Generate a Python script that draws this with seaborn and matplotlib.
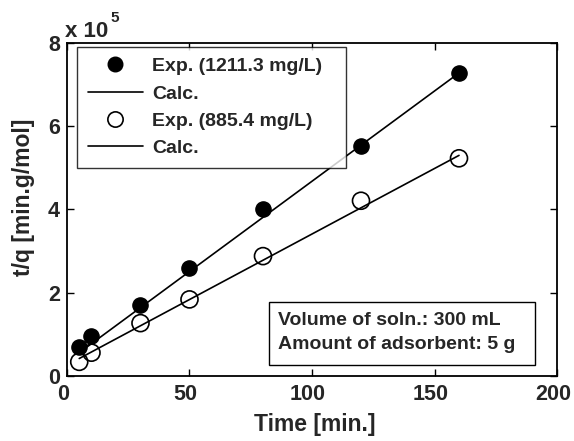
import matplotlib
matplotlib.use("Agg")
import matplotlib.pyplot as plt
import matplotlib.transforms as mtransforms
import seaborn as sns
import pandas as pd
from matplotlib.lines import Line2D
from matplotlib.patches import Rectangle

# Data (t/q in units of 1e5 min.g/mol)
time_exp = [5, 10, 30, 50, 80, 120, 160]
tq_1211 = [0.70, 0.96, 1.71, 2.59, 4.01, 5.53, 7.29]
tq_885 = [0.34, 0.56, 1.27, 1.84, 2.88, 4.21, 5.23]
time_calc = [5, 160]
calc_1211 = [0.56, 7.28]
calc_885 = [0.42, 5.30]

x_ticks = [0, 50, 100, 150, 200]
y_ticks = [0, 2, 4, 6, 8]

sns.set_style("white")
plt.rcParams['font.family'] = ['Liberation Sans', 'DejaVu Sans']
plt.rcParams['font.weight'] = 'bold'

fig = plt.figure(figsize=(5.74, 4.41), dpi=100)
ax = fig.add_axes([0.1167, 0.1474, 0.8537, 0.7551])

df_exp = pd.DataFrame({"t": time_exp, "a": tq_1211, "b": tq_885})
df_calc = pd.DataFrame({"t": time_calc, "a": calc_1211, "b": calc_885})

sns.lineplot(data=df_calc, x="t", y="a", color="black", linewidth=1.2, ax=ax, zorder=2)
sns.lineplot(data=df_calc, x="t", y="b", color="black", linewidth=1.2, ax=ax, zorder=2)
sns.scatterplot(data=df_exp, x="t", y="a", color="black", s=120, edgecolor="black",
                linewidth=1.0, ax=ax, zorder=3)
sns.scatterplot(data=df_exp, x="t", y="b", facecolor="none", s=150, edgecolor="black",
                linewidth=1.2, ax=ax, zorder=3)

ax.set_xlim(0, 200)
ax.set_ylim(0, 8)
ax.set_xticks(x_ticks)
ax.set_yticks(y_ticks)
ax.set_xticklabels([str(v) for v in x_ticks], fontsize=15.5, fontweight='bold')
ax.set_yticklabels([str(v) for v in y_ticks], fontsize=15.5, fontweight='bold')
ax.tick_params(direction='in', length=5, width=1.0, top=True, right=True,
               bottom=True, left=True, color='black')
ax.tick_params(axis='x', pad=6)
ax.tick_params(axis='y', pad=5)
shift = mtransforms.ScaledTranslation(-4 / 100, 0, fig.dpi_scale_trans)
for lbl in ax.get_xticklabels():
    lbl.set_transform(lbl.get_transform() + shift)
ax.set_xlabel("Time [min.]", fontsize=16.5, fontweight='bold')
ax.set_ylabel("t/q [min.g/mol]", fontsize=16.5, fontweight='bold')
ax.xaxis.set_label_coords(0.505, -0.112)
ax.yaxis.set_label_coords(-0.066, 0.536)
for sp in ax.spines.values():
    sp.set_linewidth(1.3)
    sp.set_color('black')

ax.text(-0.004, 1.018, "x 10", transform=ax.transAxes, fontsize=16,
        fontweight='bold', ha='left', va='baseline')
ax.text(0.088, 1.063, "5", transform=ax.transAxes, fontsize=11,
        fontweight='bold', ha='left', va='baseline')

handles = [
    Line2D([], [], linestyle='none', marker='o', markersize=10.5, markerfacecolor='black',
           markeredgecolor='black'),
    Line2D([], [], color='black', linewidth=1.2),
    Line2D([], [], linestyle='none', marker='o', markersize=11, markerfacecolor='white',
           markeredgecolor='black', markeredgewidth=1.2),
    Line2D([], [], color='black', linewidth=1.2),
]
labels = ["Exp. (1211.3 mg/L)", "Calc.", "Exp. (885.4 mg/L)", "Calc."]
leg = ax.legend(handles, labels, loc='upper left',
                bbox_to_anchor=(0.0204, 0.607, 0.549, 0.381), mode='expand',
                borderaxespad=0, frameon=True, fancybox=False, edgecolor='black',
                prop={'size': 14, 'weight': 'bold'}, handlelength=2.85,
                handletextpad=0.45, labelspacing=0.5, borderpad=0.55)
leg.get_frame().set_linewidth(1.0)

ax.add_patch(Rectangle((0.412, 0.033), 0.543, 0.189, transform=ax.transAxes,
                       facecolor='white', edgecolor='black', linewidth=1.0, zorder=4))
ax.text(0.4306, 0.168, "Volume of soln.: 300 mL", transform=ax.transAxes, fontsize=14,
        fontweight='bold', ha='left', va='center', zorder=5)
ax.text(0.4306, 0.096, "Amount of adsorbent: 5 g", transform=ax.transAxes, fontsize=14,
        fontweight='bold', ha='left', va='center', zorder=5)

fig.savefig("out.png", dpi=100)
